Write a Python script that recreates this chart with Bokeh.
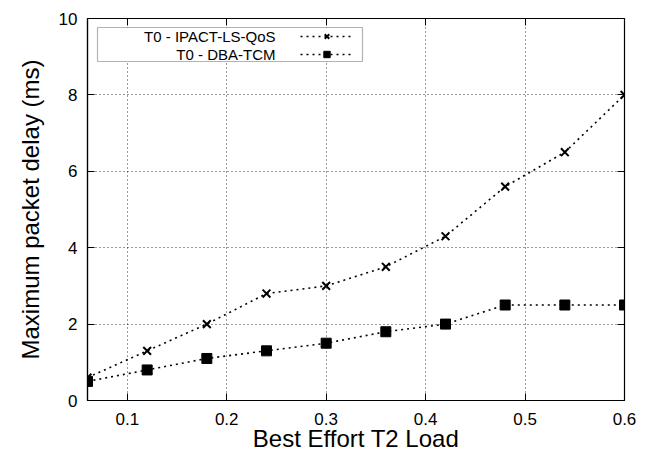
from bokeh.plotting import figure
from bokeh.models import (Range1d, LinearAxis, FixedTicker, Legend, LegendItem,
                          Label, BoxAnnotation, CustomJSTickFormatter)
from bokeh.embed import file_html
from bokeh.resources import INLINE

load = [0.06, 0.12, 0.18, 0.24, 0.30, 0.36, 0.42, 0.48, 0.54, 0.60]
ipact = [0.6, 1.3, 2.0, 2.8, 3.0, 3.5, 4.3, 5.6, 6.5, 8.0]
dba = [0.5, 0.8, 1.1, 1.3, 1.5, 1.8, 2.0, 2.5, 2.5, 2.5]
x_ticks = [0.1, 0.2, 0.3, 0.4, 0.5, 0.6]
y_ticks = [0, 2, 4, 6, 8, 10]
names = ["T0 - IPACT-LS-QoS", "T0 - DBA-TCM"]

FONT = "Liberation Sans"
FH = 382  # frame height in px

p = figure(width=646, height=457, output_backend="svg", toolbar_location=None,
           x_range=Range1d(0.06, 0.6), y_range=Range1d(0, 10),
           min_border_left=87, min_border_right=22, min_border_top=18,
           min_border_bottom=57)
p.background_fill_color = "white"
p.border_fill_color = "white"
p.outline_line_color = "black"
p.outline_line_width = 1.2

for ax, ticks in ((p.xaxis[0], x_ticks), (p.yaxis[0], y_ticks)):
    ax.ticker = FixedTicker(ticks=ticks)
    ax.major_tick_in = 7
    ax.major_tick_out = 0
    ax.minor_tick_line_color = None
    ax.axis_line_color = "black"
    ax.axis_line_width = 1.2
    ax.major_tick_line_color = "black"
    ax.major_label_text_font = FONT
    ax.major_label_text_font_size = "17px"
    ax.major_label_text_color = "black"
    ax.axis_label_text_font = FONT
    ax.axis_label_text_font_size = "24px"
    ax.axis_label_text_font_style = "normal"
    ax.axis_label_text_color = "black"

p.xaxis[0].axis_label = "Best Effort T2 Load"
p.yaxis[0].axis_label = "Maximum packet delay (ms)"
p.xaxis[0].major_label_standoff = 12
p.xaxis[0].axis_label_standoff = -3
p.yaxis[0].major_label_standoff = 10
p.yaxis[0].axis_label_standoff = 12

# mirrored tick marks on top and right
for loc, ticks in (("above", x_ticks), ("right", y_ticks)):
    ax = LinearAxis(ticker=FixedTicker(ticks=ticks),
                    formatter=CustomJSTickFormatter(code="return ''"))
    ax.major_tick_in = 7
    ax.major_tick_out = 0
    ax.minor_tick_line_color = None
    ax.axis_line_color = None
    ax.major_tick_line_color = "black"
    ax.major_label_text_font_size = "1px"
    ax.major_label_standoff = 0
    p.add_layout(ax, loc)

p.xgrid.ticker = FixedTicker(ticks=x_ticks)
p.ygrid.ticker = FixedTicker(ticks=y_ticks)
p.grid.grid_line_color = "black"
p.grid.grid_line_dash = "1 3"
p.grid.grid_line_width = 1
p.grid.grid_line_alpha = 0.8

l1 = p.line(load, ipact, line_color="black", line_width=1.6, line_dash="2 4")
m1 = p.scatter(load, ipact, marker="x", size=11, line_color="black", line_width=2)
l2 = p.line(load, dba, line_color="black", line_width=1.6, line_dash="2 4")
m2 = p.scatter(load, dba, marker="square", size=10, fill_color="black", line_color="black")

# legend box, texts on the left and samples on the right
box = BoxAnnotation(left=10, right=275, top=FH - 9, bottom=FH - 43,
                    left_units="screen", right_units="screen",
                    top_units="screen", bottom_units="screen",
                    fill_color="white", fill_alpha=1, line_color="black", line_width=1.2)
p.add_layout(box)

legend = Legend(items=[LegendItem(label=" ", renderers=[l1, m1]),
                       LegendItem(label=" ", renderers=[l2, m2])],
                location=(213, FH - 10 - 34), border_line_color=None,
                background_fill_alpha=0, glyph_width=53, glyph_height=16,
                label_width=0, label_height=16, label_standoff=0, spacing=2,
                padding=0, margin=0, label_text_font_size="10px")
p.add_layout(legend)

for i, nm in enumerate(names):
    p.add_layout(Label(x=188, y=FH - 18 - 18 * i, x_units="screen", y_units="screen",
                       text=nm, text_align="right", text_baseline="middle",
                       text_font=FONT, text_font_size="15px", text_color="black"))

open("out.html", "w").write(file_html(p, INLINE))
